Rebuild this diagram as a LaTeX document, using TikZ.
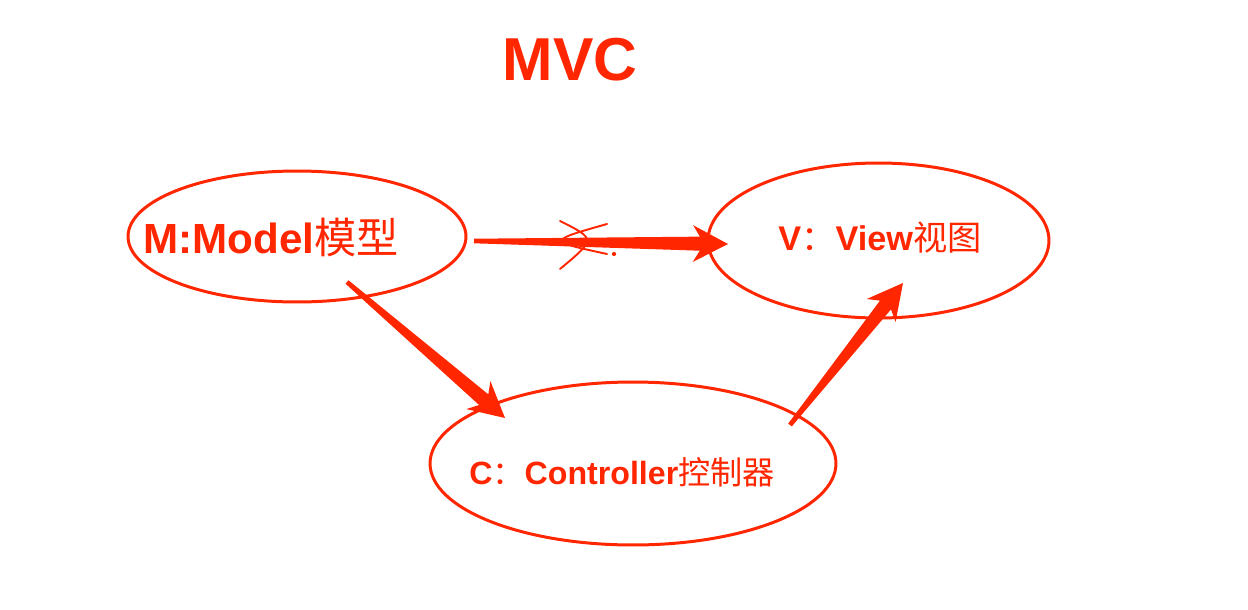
\documentclass[tikz,border=0pt]{standalone}
\usepackage{fontspec}
\setmainfont{Liberation Sans}
\newfontfamily\cjk{Noto Sans CJK SC}
\usetikzlibrary{shapes.geometric,calc}
\definecolor{mvcred}{RGB}{255,38,0}

\tikzset{
  part/.style={ellipse,draw=mvcred,line width=1.7pt,inner sep=0pt},
  lbl/.style={text=mvcred,font=\bfseries,inner sep=0pt},
}
\newcommand{\wedgearrow}[2]{%
  \path ($(#2)!16pt!(#1)$) coordinate (wa-h) ($(#2)!20pt!(#1)$) coordinate (wa-b);
  \fill[mvcred] ($(#1)!1.3pt!90:(#2)$) -- ($(wa-h)!4pt!90:(#2)$) -- ($(wa-b)!10.5pt!90:(#2)$)
    -- (#2) -- ($(wa-b)!10.5pt!-90:(#2)$) -- ($(wa-h)!4pt!-90:(#2)$) -- ($(#1)!1.3pt!-90:(#2)$) -- cycle;}

\begin{document}
\begin{tikzpicture}[x=0.02cm,y=-0.02cm]
\useasboundingbox (0,0) rectangle (1248,609);

\node[lbl,font=\bfseries\fontsize{34.5}{40}\selectfont] (title) at (570,60) {MVC};

\foreach \name/\pos/\w/\h in {model/{(297,236.5)}/6.76/2.62, view/{(878.5,240.5)}/6.82/3.1, ctrl/{(633,463.5)}/8.12/3.26}
  \node[part,minimum width=\w cm,minimum height=\h cm] (\name) at \pos {};

\node[lbl,font=\bfseries\fontsize{24}{28}\selectfont] (modeltxt) at (271,237) {M:Model{\cjk\mdseries 模型}};
\node[lbl,font=\bfseries\fontsize{19.5}{24}\selectfont] (viewtxt) at (880,238) {V{\cjk\mdseries ：}View{\cjk\mdseries 视图}};
\node[lbl,font=\bfseries\fontsize{18.3}{22}\selectfont] (ctrltxt) at (622,472) {C{\cjk\mdseries ：}Controller{\cjk\mdseries 控制器}};

\coordinate (m2v-a) at ([shift={(177,4.5)}]model.center);
\coordinate (m2v-b) at ([shift={(-150.5,3.5)}]view.center);
\coordinate (m2c-a) at ([shift={(50,45.5)}]model.center);
\coordinate (m2c-b) at ([shift={(-128,-45.5)}]ctrl.center);
\coordinate (c2v-a) at ([shift={(157,-38.5)}]ctrl.center);
\coordinate (c2v-b) at ([shift={(24.5,42.5)}]view.center);

\wedgearrow{m2v-a}{m2v-b}
\wedgearrow{m2c-a}{m2c-b}
\wedgearrow{c2v-a}{c2v-b}

\draw[mvcred,line width=1.1pt,line cap=round] (560,221) .. controls (596,239) .. (560,269)
  (607,224) .. controls (547,241) .. (607,254);
\fill[mvcred] (614,254) circle (1.2pt);
\end{tikzpicture}
\end{document}
